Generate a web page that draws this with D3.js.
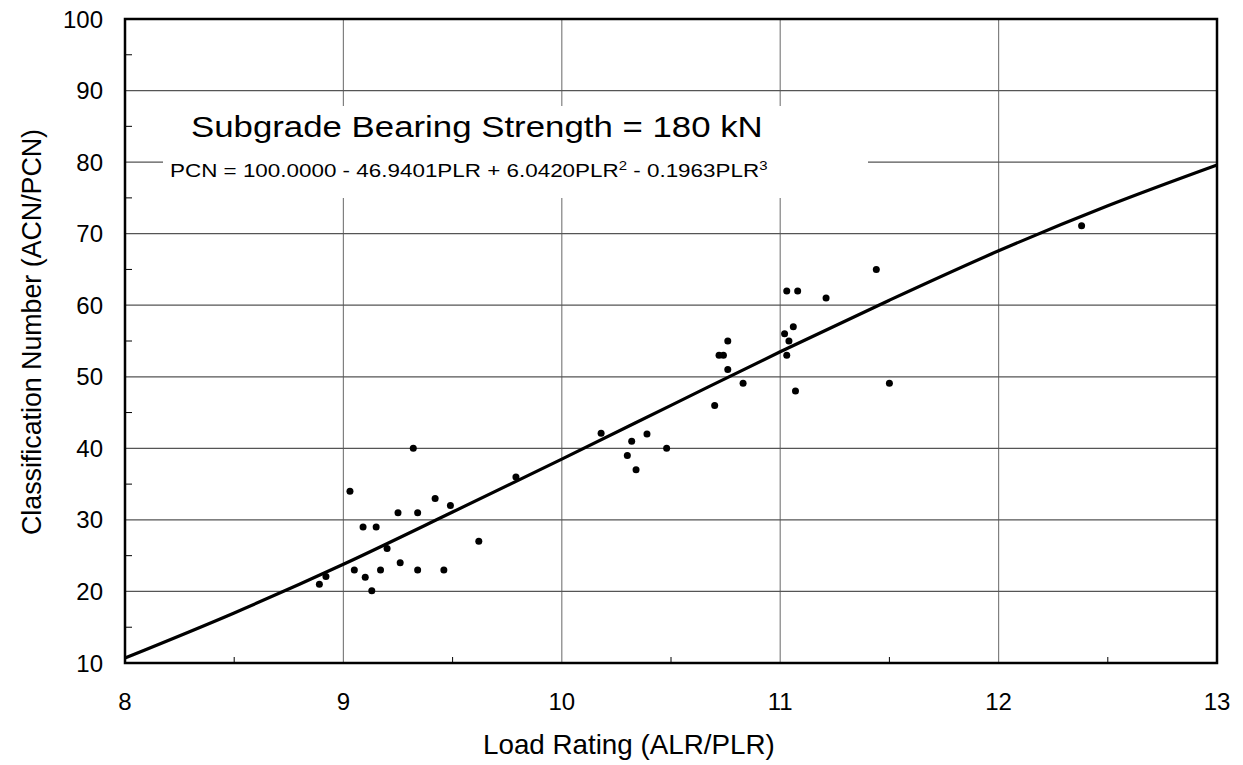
<!DOCTYPE html>
<html>
<head>
<meta charset="utf-8">
<script src="https://cdn.jsdelivr.net/npm/d3@7"></script>
<style>
  html, body { margin: 0; padding: 0; background: #fff; }
  svg text { font-family: "Liberation Sans", Arial, sans-serif; fill: #000; }
</style>
</head>
<body>
<div id="chart"></div>
<script>
// measured points (Load Rating vs Classification Number)
const loadRating = [8.89, 8.92, 9.03, 9.05, 9.09, 9.10, 9.13, 9.15, 9.17, 9.20,
    9.25, 9.26, 9.32, 9.34, 9.34, 9.42, 9.46, 9.49, 9.62, 9.79,
    10.18, 10.30, 10.32, 10.34, 10.39, 10.48, 10.70, 10.72, 10.74, 10.76,
    10.76, 10.83, 11.02, 11.03, 11.03, 11.04, 11.06, 11.07, 11.08, 11.21,
    11.44, 11.50, 12.38];
const classNumber = [21.0, 22.1, 34.0, 23.0, 29.0, 22.0, 20.1, 29.0, 23.0, 26.0,
    31.0, 24.0, 40.0, 31.0, 23.0, 33.0, 23.0, 32.0, 27.0, 36.0,
    42.1, 39.0, 41.0, 37.0, 42.0, 40.0, 46.0, 53.0, 53.0, 55.0,
    51.0, 49.1, 56.0, 53.0, 62.0, 55.0, 57.0, 48.0, 62.0, 61.0,
    65.0, 49.1, 71.1];

// fitted curve, every 0.5
const curveX = [8, 8.5, 9, 9.5, 10, 10.5, 11, 11.5, 12, 12.5, 13];
const curveY = [10.7, 17.0, 23.8, 31.1, 38.5, 46.0, 53.5, 60.7, 67.6, 73.9, 79.6];

const xTicks = [8, 9, 10, 11, 12, 13];
const yTicks = [10, 20, 30, 40, 50, 60, 70, 80, 90, 100];
const xMinor = [8.5, 9.5, 10.5, 11.5, 12.5];
const yMinor = [15, 25, 35, 45, 55, 65, 75, 85, 95];

const titleText = "Subgrade Bearing Strength = 180 kN";
const xLabel = "Load Rating (ALR/PLR)";
const yLabel = "Classification Number (ACN/PCN)";

const width = 1243, height = 765;
const plotL = 125, plotR = 1217, plotT = 19, plotB = 663;

const svg = d3.select("#chart").append("svg")
    .attr("width", width)
    .attr("height", height);

const x = d3.scaleLinear().domain([8, 13]).range([plotL, plotR]);
const y = d3.scaleLinear().domain([10, 100]).range([plotB, plotT]);

// stretch a text group horizontally so it spans the width seen in the original
function fitWidth(g, px, py, target) {
    const w = g.node().getBBox().width;
    g.attr("transform", `translate(${px},${py}) scale(${target / w},1)`);
}

// grid
svg.append("g").selectAll("line")
    .data(xTicks.slice(1, -1))
    .join("line")
    .attr("x1", d => x(d)).attr("x2", d => x(d))
    .attr("y1", plotT).attr("y2", plotB)
    .attr("stroke", "#808080").attr("stroke-width", 1.2);

svg.append("g").selectAll("line")
    .data(yTicks.slice(1, -1))
    .join("line")
    .attr("x1", plotL).attr("x2", plotR)
    .attr("y1", d => y(d)).attr("y2", d => y(d))
    .attr("stroke", "#555").attr("stroke-width", 1.2);

// minor ticks, inside the frame
svg.append("g").selectAll("line")
    .data(yMinor)
    .join("line")
    .attr("x1", plotL).attr("x2", plotL + 7)
    .attr("y1", d => y(d)).attr("y2", d => y(d))
    .attr("stroke", "#000").attr("stroke-width", 1);

svg.append("g").selectAll("line")
    .data(xMinor)
    .join("line")
    .attr("x1", d => x(d)).attr("x2", d => x(d))
    .attr("y1", plotB).attr("y2", plotB - 6)
    .attr("stroke", "#000").attr("stroke-width", 1);

// white box behind the annotation
svg.append("rect")
    .attr("x", 163).attr("y", 106)
    .attr("width", 705).attr("height", 92)
    .attr("fill", "#fff");

const titleG = svg.append("g");
titleG.append("text")
    .attr("font-size", "30px")
    .text(titleText);
fitWidth(titleG, 191, 137, 572);

const eqG = svg.append("g");
const eq = eqG.append("text")
    .attr("font-size", "18px");
eq.append("tspan").text("PCN = 100.0000 - 46.9401PLR + 6.0420PLR");
eq.append("tspan").attr("dy", -7).attr("font-size", "12px").text("2");
eq.append("tspan").attr("dy", 7).text(" - 0.1963PLR");
eq.append("tspan").attr("dy", -7).attr("font-size", "12px").text("3");
fitWidth(eqG, 170, 177, 598);

// curve
const line = d3.line()
    .x(d => x(d[0]))
    .y(d => y(d[1]))
    .curve(d3.curveMonotoneX);

svg.append("path")
    .datum(d3.zip(curveX, curveY))
    .attr("d", line)
    .attr("fill", "none")
    .attr("stroke", "#000")
    .attr("stroke-width", 3.2);

// points
svg.append("g").selectAll("circle")
    .data(d3.zip(loadRating, classNumber))
    .join("circle")
    .attr("cx", d => x(d[0]))
    .attr("cy", d => y(d[1]))
    .attr("r", 3.5)
    .attr("fill", "#000");

// frame
svg.append("rect")
    .attr("x", plotL).attr("y", plotT)
    .attr("width", plotR - plotL).attr("height", plotB - plotT)
    .attr("fill", "none")
    .attr("stroke", "#000")
    .attr("stroke-width", 2.5);

// tick labels
svg.append("g").selectAll("text")
    .data(xTicks)
    .join("text")
    .attr("x", d => x(d))
    .attr("y", 710)
    .attr("text-anchor", "middle")
    .attr("font-size", "24px")
    .text(d => d);

svg.append("g").selectAll("text")
    .data(yTicks)
    .join("text")
    .attr("x", 103)
    .attr("y", d => y(d) + 8.5)
    .attr("text-anchor", "end")
    .attr("font-size", "24px")
    .text(d => d);

// axis titles
const xLabG = svg.append("g");
xLabG.append("text")
    .attr("font-size", "27px")
    .text(xLabel);
fitWidth(xLabG, 483, 754, 292);

svg.append("text")
    .attr("transform", `translate(41,332) rotate(-90)`)
    .attr("text-anchor", "middle")
    .attr("font-size", "27px")
    .attr("textLength", 406)
    .attr("lengthAdjust", "spacingAndGlyphs")
    .text(yLabel);
</script>
</body>
</html>
